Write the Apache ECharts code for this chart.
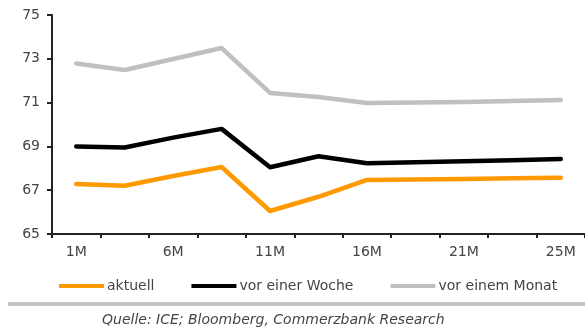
<!DOCTYPE html>
<html>
<head>
<meta charset="utf-8">
<script src="https://cdn.jsdelivr.net/npm/echarts@6/dist/echarts.min.js"></script>
<style>html,body{margin:0;padding:0;background:#fff}#c{width:585px;height:329px}</style>
</head>
<body>
<div id="c"></div>
<script>
var categories = ['1M','3M','6M','8M','11M','13M','16M','18M','21M','23M','25M'];
var aktuell = [67.28, 67.2, 67.65, 68.06, 66.05, 66.7, 67.47, 67.49, 67.51, 67.54, 67.57];
var vorWoche = [69.0, 68.95, 69.4, 69.8, 68.05, 68.55, 68.23, 68.28, 68.32, 68.37, 68.42];
var vorMonat = [72.79, 72.49, 72.99, 73.49, 71.44, 71.26, 70.98, 71.0, 71.03, 71.07, 71.12];
var yTicks = [65, 67, 69, 71, 73, 75];
var seriesNames = ['aktuell', 'vor einer Woche', 'vor einem Monat'];
var sourceText = 'Quelle: ICE; Bloomberg, Commerzbank Research';

var font = 'DejaVu Sans';
var chart = echarts.init(document.getElementById('c'), null, {renderer: 'canvas'});
function mk(name, data, color) {
  return {
    name: name, type: 'line', data: data, symbol: 'none', smooth: false,
    lineStyle: {color: color, width: 4.5, cap: 'round', join: 'round'},
    itemStyle: {color: color}, animation: false
  };
}
chart.setOption({
  animation: false,
  grid: {left: 52, top: 15, right: 0, bottom: 95, containLabel: false},
  xAxis: {
    type: 'category', data: categories, boundaryGap: true,
    axisLine: {lineStyle: {color: '#222', width: 2}},
    axisTick: {show: true, interval: 0, length: 4, lineStyle: {color: '#222', width: 2}},
    axisLabel: {interval: 1, margin: 11, color: '#444', fontFamily: font, fontSize: 14}
  },
  yAxis: {
    type: 'value', min: yTicks[0], max: yTicks[yTicks.length - 1], interval: 2,
    splitLine: {show: false},
    axisLine: {show: true, lineStyle: {color: '#222', width: 2}},
    axisTick: {show: true, length: 5, lineStyle: {color: '#222', width: 2}},
    axisLabel: {margin: 12, color: '#444', fontFamily: font, fontSize: 14}
  },
  legend: {
    data: seriesNames, bottom: 31, left: 54, itemGap: 37,
    itemWidth: 45, itemHeight: 4, icon: 'rect',
    textStyle: {color: '#444', fontFamily: font, fontSize: 14, padding: [0,0,0,-2]}
  },
  graphic: [
    {type: 'rect', shape: {x: 8, y: 302, width: 577, height: 4}, style: {fill: '#c4c4c4'}},
    {type: 'text', left: 102, top: 313, style: {text: sourceText, fill: '#444', font: 'italic 14px "DejaVu Sans"'}}
  ],
  series: [
    mk(seriesNames[0], aktuell, '#ff9900'),
    mk(seriesNames[1], vorWoche, '#000000'),
    mk(seriesNames[2], vorMonat, '#c0c0c0')
  ]
});
</script>
</body>
</html>
